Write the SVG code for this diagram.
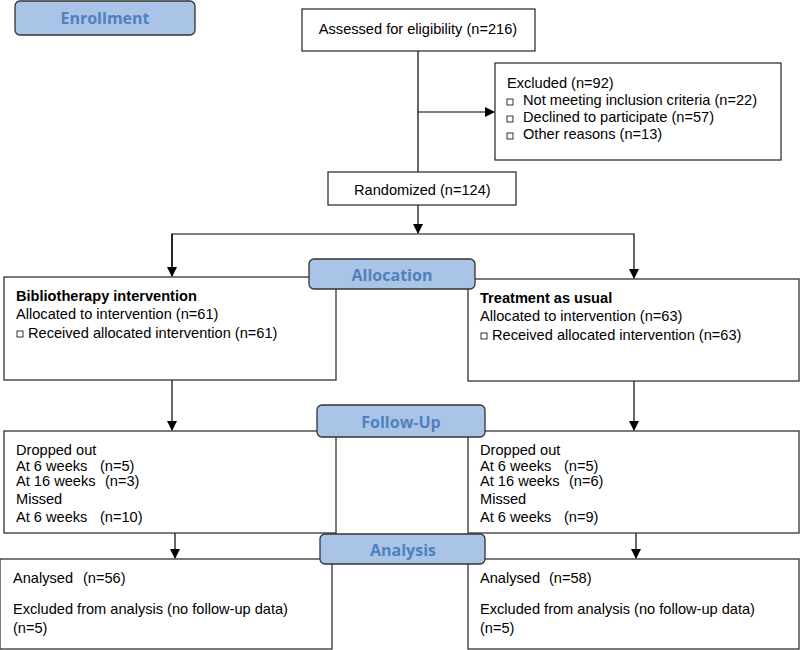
<svg xmlns="http://www.w3.org/2000/svg" width="800" height="650" viewBox="0 0 800 650">
<defs>
<marker id="ah" markerWidth="10" markerHeight="10" refX="9" refY="5" orient="auto" markerUnits="userSpaceOnUse">
<path d="M0,0 L10,5 L0,10 Z" fill="#000"/>
</marker>
<style>
.box{fill:#fff;stroke:#333;stroke-width:1.3}
.lab{fill:#a9c4e7;stroke:#333;stroke-width:1.3}
.lt{font-family:"Open Sans","Noto Sans",sans-serif;font-weight:bold;font-size:16px;fill:#4f81bd;text-anchor:middle}
.t{font-family:"Liberation Sans",Arial,sans-serif;font-size:14.6px;fill:#000}
.b{font-weight:bold}
.c{fill:none;stroke:#000;stroke-width:1.2}
.sq{fill:#fff;stroke:#000;stroke-width:0.8}
</style>
</defs>
<rect width="800" height="650" fill="#fff"/>
<g id="connectors">
<path class="c" d="M418,51 V172"/>
<path class="c" d="M418,112 H494" marker-end="url(#ah)"/>
<path class="c" d="M418,205 V233" marker-end="url(#ah)"/>
<path class="c" d="M172,276 V234 H634 V278" marker-end="url(#ah)"/>
<path class="c" d="M172,234 V276" marker-end="url(#ah)"/>
<path class="c" d="M172,380 V430" marker-end="url(#ah)"/>
<path class="c" d="M634,381 V430" marker-end="url(#ah)"/>
<path class="c" d="M175,533 V558" marker-end="url(#ah)"/>
<path class="c" d="M636,533 V558" marker-end="url(#ah)"/>
</g>
<g id="assessed">
<rect class="box" x="302" y="9" width="233" height="42"/>
<text class="t" x="418" y="34" text-anchor="middle">Assessed for eligibility (n=216)</text>
</g>
<g id="excluded">
<rect class="box" x="495" y="63" width="286" height="97"/>
<text class="t" x="507" y="88">Excluded (n=92)</text>
<rect class="sq" x="507" y="99" width="6" height="6"/>
<text class="t" x="523" y="105">Not meeting inclusion criteria (n=22)</text>
<rect class="sq" x="507" y="116" width="6" height="6"/>
<text class="t" x="523" y="122">Declined to participate (n=57)</text>
<rect class="sq" x="507" y="133" width="6" height="6"/>
<text class="t" x="523" y="139">Other reasons (n=13)</text>
</g>
<g id="randomized">
<rect class="box" x="328" y="172" width="188" height="33"/>
<text class="t" x="354" y="195">Randomized (n=124)</text>
</g>
<g id="alloc-left">
<rect class="box" x="4" y="277" width="332" height="103"/>
<text class="t b" x="16" y="301">Bibliotherapy intervention</text>
<text class="t" x="16" y="319">Allocated to intervention (n=61)</text>
<rect class="sq" x="17" y="331" width="6" height="6"/>
<text class="t" x="28" y="338">Received allocated intervention (n=61)</text>
</g>
<g id="alloc-right">
<rect class="box" x="468" y="279" width="331" height="102"/>
<text class="t b" x="480" y="303">Treatment as usual</text>
<text class="t" x="480" y="321">Allocated to intervention (n=63)</text>
<rect class="sq" x="481" y="333" width="6" height="6"/>
<text class="t" x="492" y="340">Received allocated intervention (n=63)</text>
</g>
<g id="follow-left">
<rect class="box" x="4" y="431" width="332" height="102"/>
<text class="t" x="16" y="455">Dropped out</text>
<text class="t" x="16" y="471">At 6 weeks<tspan x="100">(n=5)</tspan></text>
<text class="t" x="16" y="486">At 16 weeks<tspan x="105">(n=3)</tspan></text>
<text class="t" x="16" y="504">Missed</text>
<text class="t" x="16" y="522">At 6 weeks<tspan x="100">(n=10)</tspan></text>
</g>
<g id="follow-right">
<rect class="box" x="468" y="431" width="331" height="102"/>
<text class="t" x="480" y="455">Dropped out</text>
<text class="t" x="480" y="471">At 6 weeks<tspan x="564">(n=5)</tspan></text>
<text class="t" x="480" y="486">At 16 weeks<tspan x="569">(n=6)</tspan></text>
<text class="t" x="480" y="504">Missed</text>
<text class="t" x="480" y="522">At 6 weeks<tspan x="564">(n=9)</tspan></text>
</g>
<g id="analysis-left">
<rect class="box" x="0" y="559" width="332" height="90"/>
<text class="t" x="13" y="583">Analysed<tspan x="83">(n=56)</tspan></text>
<text class="t" x="13" y="614">Excluded from analysis (no follow-up data)</text>
<text class="t" x="13" y="633">(n=5)</text>
</g>
<g id="analysis-right">
<rect class="box" x="468" y="559" width="331" height="90"/>
<text class="t" x="480" y="583">Analysed<tspan x="549">(n=58)</tspan></text>
<text class="t" x="480" y="614">Excluded from analysis (no follow-up data)</text>
<text class="t" x="480" y="633">(n=5)</text>
</g>
<g id="label-enrollment">
<rect class="lab" x="15" y="1" width="180" height="34" rx="5"/>
<text class="lt" x="105" y="24">Enrollment</text>
</g>
<g id="label-allocation">
<rect class="lab" x="309" y="259" width="166" height="30" rx="5"/>
<text class="lt" x="392" y="281">Allocation</text>
</g>
<g id="label-followup">
<rect class="lab" x="317" y="405" width="168" height="32" rx="5"/>
<text class="lt" x="401" y="428">Follow-Up</text>
</g>
<g id="label-analysis">
<rect class="lab" x="320" y="534" width="165" height="30" rx="5"/>
<text class="lt" x="403" y="556">Analysis</text>
</g>
</svg>
